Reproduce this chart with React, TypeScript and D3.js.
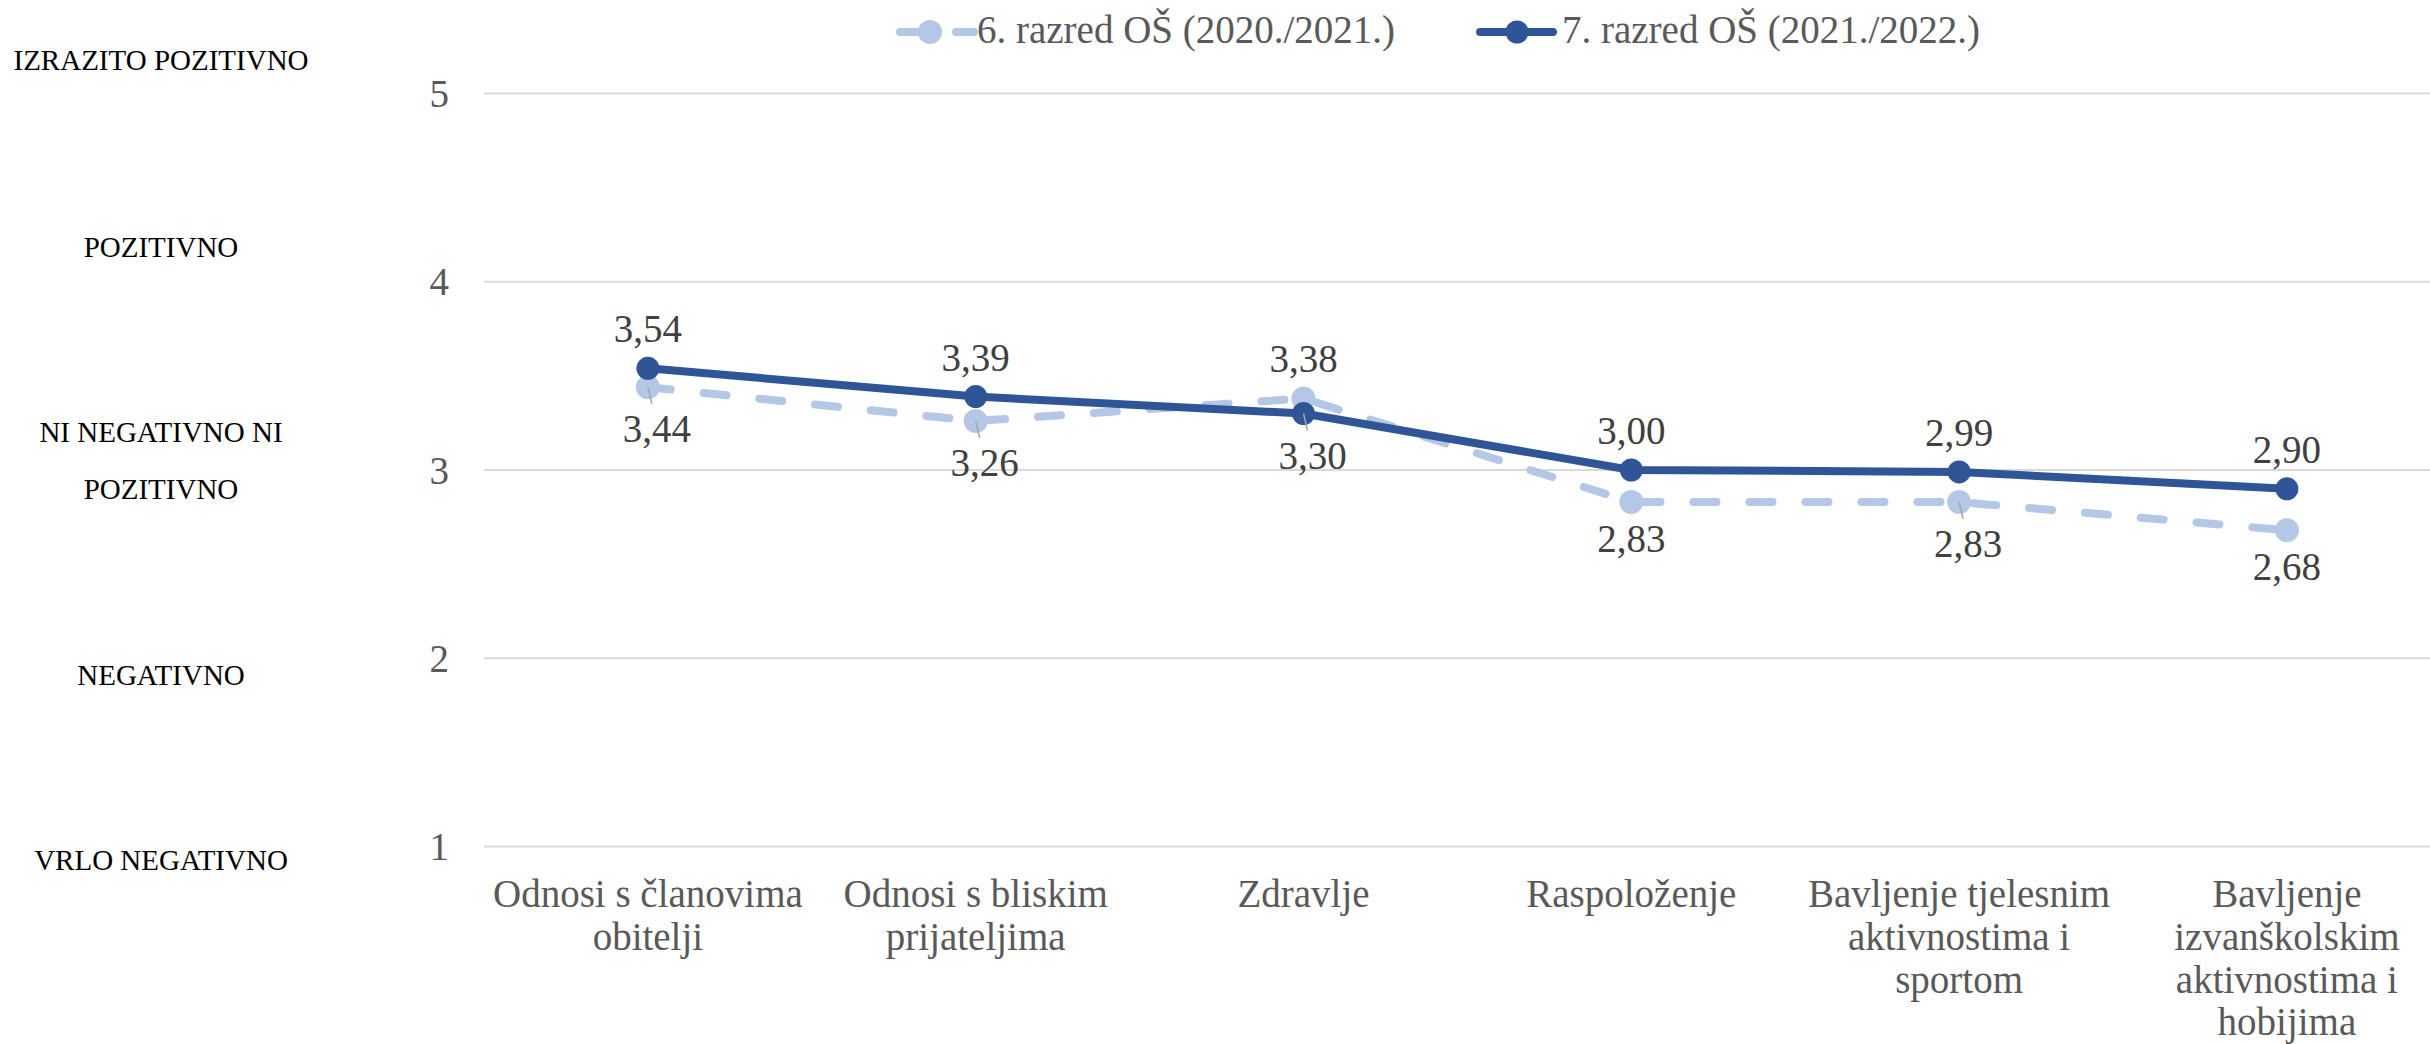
import React from "react";
import * as d3 from "d3";

const categories: string[][] = [
  ["Odnosi s članovima", "obitelji"],
  ["Odnosi s bliskim", "prijateljima"],
  ["Zdravlje"],
  ["Raspoloženje"],
  ["Bavljenje tjelesnim", "aktivnostima i", "sportom"],
  ["Bavljenje", "izvanškolskim", "aktivnostima i", "hobijima"],
];
const seriesNames = ["6. razred OŠ (2020./2021.)", "7. razred OŠ (2021./2022.)"];
const grade6 = [3.44, 3.26, 3.38, 2.83, 2.83, 2.68];
const grade7 = [3.54, 3.39, 3.3, 3.0, 2.99, 2.9];
const grade6Above = [false, false, true, false, false, false];
const grade7Above = [true, true, false, true, true, true];
const grade6Leader = [true, true, false, false, true, false];
const grade7Leader = [false, false, true, false, false, false];
const yTicks = [1, 2, 3, 4, 5];
const levelLabels: string[][] = [
  ["VRLO NEGATIVNO"],
  ["NEGATIVNO"],
  ["NI NEGATIVNO NI", "POZITIVNO"],
  ["POZITIVNO"],
  ["IZRAZITO POZITIVNO"],
];

const W = 2430;
const H = 1044;
const FONT = "'Liberation Serif', 'Times New Roman', serif";
const LIGHT = "#B4C7E7";
const DARK = "#2F5597";
const GRID = "#D9D9D9";
const TEXT = "#595959";
const LABEL = "#404040";

export default function App() {
  const keys = categories.map((c) => c.join(" "));
  const x = d3.scaleBand<string>().domain(keys).range([484, 484 + 6 * 327.8]).padding(0);
  const cx = (i: number) => (x(keys[i]) as number) + x.bandwidth() / 2;
  const y = d3.scaleLinear().domain([1, 5]).range([846.5, 93.5]);

  const line = d3
    .line<number>()
    .x((_, i) => cx(i))
    .y((d) => y(d));

  const series = [
    { name: seriesNames[0], values: grade6, color: LIGHT, dash: "23 33", r: 12, above: grade6Above, leader: grade6Leader },
    { name: seriesNames[1], values: grade7, color: DARK, dash: undefined as string | undefined, r: 11.5, above: grade7Above, leader: grade7Leader },
  ];

  const fmt = (v: number) => v.toFixed(2).replace(".", ",");
  const levelBaselines: Record<number, number[]> = {
    1: [870],
    2: [685],
    3: [442, 499],
    4: [257],
    5: [70],
  };

  return (
    <svg
      width={W}
      height={H}
      style={{ position: "absolute", left: 0, top: 0, background: "#fff" }}
      fontFamily={FONT}
    >
      <rect x={0} y={0} width={W} height={H} fill="#fff" />
      {yTicks.map((t) => (
        <line key={"g" + t} x1={484} x2={W} y1={y(t)} y2={y(t)} stroke={GRID} strokeWidth={2} />
      ))}
      {yTicks.map((t) => (
        <text key={"t" + t} x={449} y={y(t)} dy="0.35em" textAnchor="end" fontSize={39} fill={TEXT}>
          {t}
        </text>
      ))}
      {levelLabels.map((lines, i) =>
        lines.map((l, j) => (
          <text key={"lv" + i + j} x={161} y={levelBaselines[yTicks[i]][j]} textAnchor="middle" fontSize={29} fill="#000">
            {l}
          </text>
        ))
      )}
      {categories.map((lines, i) => (
        <text key={"c" + i} x={cx(i)} y={907} textAnchor="middle" fontSize={39} fill={TEXT}>
          {lines.map((l, j) => (
            <tspan key={j} x={cx(i)} dy={j === 0 ? 0 : 42.8}>
              {l}
            </tspan>
          ))}
        </text>
      ))}
      {series.map((s, si) => (
        <g key={"s" + si}>
          <path
            d={line(s.values) || ""}
            fill="none"
            stroke={s.color}
            strokeWidth={8}
            strokeDasharray={s.dash}
            strokeLinecap="round"
            strokeLinejoin="round"
          />
          {s.values.map((v, i) => (
            <circle key={i} cx={cx(i)} cy={y(v)} r={s.r} fill={s.color} />
          ))}
        </g>
      ))}
      {series.map((s, si) =>
        s.values.map((v, i) => {
          const px = cx(i);
          const py = y(v);
          const above = s.above[i];
          const lead = s.leader[i];
          const lx = px + (lead ? 9 : 0);
          const ly = above ? py - 26 : py + 50 + (lead ? 5 : 0);
          return (
            <g key={"l" + si + i}>
              {lead && (
                <line x1={px} y1={py} x2={px + 4} y2={py + 17} stroke="#A6A6A6" strokeWidth={1.5} />
              )}
              <text x={lx} y={ly} textAnchor="middle" fontSize={39} fill={LABEL}>
                {fmt(v)}
              </text>
            </g>
          );
        })
      )}
      <g>
        <line x1={900} x2={974} y1={32} y2={32} stroke={LIGHT} strokeWidth={8} strokeDasharray="23 33" strokeLinecap="round" />
        <circle cx={930} cy={32} r={12} fill={LIGHT} />
        <text x={977} y={43} fontSize={39} fill={TEXT}>
          {seriesNames[0]}
        </text>
        <line x1={1480} x2={1553} y1={32} y2={32} stroke={DARK} strokeWidth={8} strokeLinecap="round" />
        <circle cx={1517} cy={32} r={11.5} fill={DARK} />
        <text x={1562} y={43} fontSize={39} fill={TEXT}>
          {seriesNames[1]}
        </text>
      </g>
    </svg>
  );
}
